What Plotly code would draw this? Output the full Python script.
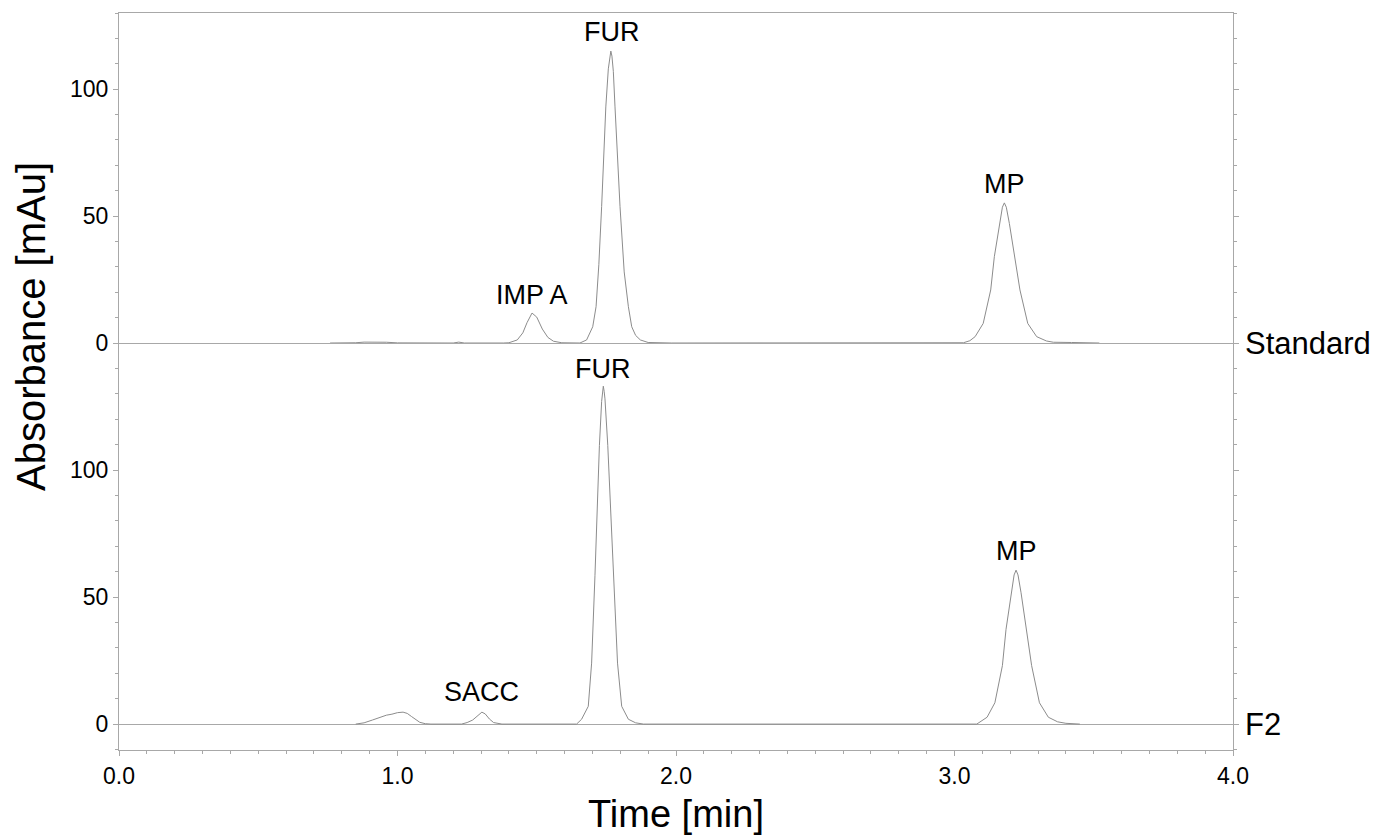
import plotly.graph_objects as go

# ---- Data ----
std_time = [0.758, 0.80, 0.85, 0.88, 0.92, 0.96, 1.00, 1.06, 1.20, 1.22, 1.24, 1.38,
            1.40, 1.43, 1.45, 1.465, 1.483, 1.50, 1.52, 1.54, 1.56, 1.59, 1.62,
            1.655, 1.679, 1.701, 1.713, 1.723, 1.733, 1.741, 1.748, 1.757, 1.762, 1.766, 1.770,
            1.775, 1.781, 1.790, 1.799,
            1.814, 1.829, 1.841, 1.855, 1.872, 1.90, 1.985, 3.00,
            3.032, 3.055, 3.074, 3.103, 3.130, 3.143, 3.161, 3.172, 3.179, 3.186, 3.197, 3.217,
            3.235, 3.263, 3.295, 3.33, 3.355, 3.42, 3.52]
std_abs = [0, 0, 0.1, 0.35, 0.45, 0.3, 0.05, 0, 0, 0.35, 0, 0,
           0.1, 1.2, 4.0, 8.0, 11.8, 10.2, 5.5, 2.2, 0.7, 0.1, 0,
           0, 1.2, 6.4, 14.3, 31, 53.7, 76, 93, 108, 113, 115, 113,
           107, 93, 73, 53.7,
           28, 14.3, 6.4, 3.0, 1.2, 0.2, 0, 0,
           0.1, 0.9, 2.5, 7.7, 20.9, 34, 47.1, 53.5, 55.2, 53.5, 47.1, 34,
           20.9, 7.7, 2.5, 0.8, 0.3, 0.2, 0]

f2_time = [0.85, 0.88, 0.91, 0.94, 0.96, 0.98, 1.00, 1.02, 1.035, 1.05, 1.065, 1.08, 1.10, 1.12,
           1.23, 1.25, 1.27, 1.29, 1.303, 1.315, 1.33, 1.345, 1.36, 1.375,
           1.643, 1.661, 1.685, 1.697, 1.709, 1.717, 1.725, 1.733, 1.736, 1.739, 1.742, 1.745,
           1.755, 1.765, 1.775, 1.790, 1.805,
           1.829, 1.855, 1.883, 3.08,
           3.117, 3.145, 3.172, 3.185, 3.203, 3.214, 3.221, 3.228, 3.239, 3.259, 3.277,
           3.305, 3.337, 3.37, 3.40, 3.45]
f2_abs = [0, 0.5, 1.6, 2.9, 3.5, 3.9, 4.5, 4.7, 4.2, 3.0, 1.7, 0.7, 0.15, 0,
          0, 0.6, 1.6, 3.6, 4.7, 4.0, 2.0, 0.6, 0.15, 0,
          0, 1.9, 7.0, 24, 58.4, 86, 109.7, 127, 131, 133, 131, 128,
          109.7, 84, 58.4, 24, 7.0,
          1.9, 0.5, 0, 0,
          2.7, 8.4, 23, 37.3, 51.7, 58.7, 60.6, 58.7, 51.7, 37.3, 23,
          8.4, 2.7, 0.9, 0.3, 0]

std_labels = ["IMP A", "FUR", "MP"]
std_label_t = [1.483, 1.770, 3.178]
std_label_v = [18.9, 122.4, 62.6]

f2_labels = ["SACC", "FUR", "MP"]
f2_label_t = [1.303, 1.738, 3.221]
f2_label_v = [12.6, 139.8, 68.1]

trace_names = ["Standard", "F2"]
y_tickvals = [0, 50, 100]
x_tickvals = [0, 1, 2, 3, 4]

# ---- Figure ----
FONT = "Liberation Sans, Arial, sans-serif"
FRAME = "#a8a8a8"
TRACE = "#8c8c8c"
W, H = 1378, 837
L, R, T, B = 119, 1233, 13, 750          # plot area in page pixels
split = (B - 343) / float(B - T)

fig = go.Figure()
fig.add_trace(go.Scatter(x=std_time, y=std_abs, mode="lines", xaxis="x2", yaxis="y2",
                         line=dict(color=TRACE, width=1),
                         name=trace_names[0], showlegend=False))
fig.add_trace(go.Scatter(x=f2_time, y=f2_abs, mode="lines", xaxis="x", yaxis="y",
                         line=dict(color=TRACE, width=1),
                         name=trace_names[1], showlegend=False))

ann = []
for lab, t, v in zip(std_labels, std_label_t, std_label_v):
    ann.append(dict(x=t, y=v, xref="x2", yref="y2", text=lab, showarrow=False,
                    font=dict(family=FONT, size=27, color="black"), yanchor="middle"))
for lab, t, v in zip(f2_labels, f2_label_t, f2_label_v):
    ann.append(dict(x=t, y=v, xref="x", yref="y", text=lab, showarrow=False,
                    font=dict(family=FONT, size=27, color="black"), yanchor="middle"))
ann.append(dict(x=1.0, xref="paper", xshift=10, y=0, yref="y2", text=trace_names[0],
                showarrow=False, xanchor="left", yanchor="middle",
                font=dict(family=FONT, size=31, color="black")))
ann.append(dict(x=1.0, xref="paper", xshift=10, y=0, yref="y", text=trace_names[1],
                showarrow=False, xanchor="left", yanchor="middle",
                font=dict(family=FONT, size=31, color="black")))
ann.append(dict(x=(31 - L) / float(R - L), y=(B - 327) / float(B - T), xref="paper", yref="paper",
                text="Absorbance [mAu]", textangle=-90, showarrow=False,
                xanchor="center", yanchor="middle",
                font=dict(family=FONT, size=40, color="black")))
ann.append(dict(x=0.5, y=(B - 814) / float(B - T), xref="paper", yref="paper",
                text="Time [min]", showarrow=False, xanchor="center", yanchor="middle",
                font=dict(family=FONT, size=38, color="black")))

tickfont = dict(family=FONT, size=23, color="black")

fig.update_layout(
    width=W, height=H,
    margin=dict(l=L, r=W - R, t=T, b=H - B),
    paper_bgcolor="white", plot_bgcolor="white",
    showlegend=False,
    annotations=ann,
    xaxis=dict(domain=[0, 1], anchor="y", range=[0, 4], tickvals=x_tickvals,
               tickformat=".1f", showgrid=False, zeroline=False,
               showline=True, linecolor=FRAME, linewidth=1,
               ticks="outside", ticklen=5, tickcolor=FRAME, tickfont=tickfont,
               minor=dict(dtick=0.1, ticks="outside", ticklen=3, tickcolor=FRAME),
               mirror=False),
    yaxis=dict(domain=[0, split], anchor="x", range=[-10.2, 150], tickvals=y_tickvals,
               showgrid=False, zeroline=True, zerolinecolor=FRAME, zerolinewidth=1,
               showline=True, linecolor=FRAME, linewidth=1, mirror="ticks",
               ticks="outside", ticklen=5, tickcolor=FRAME, tickfont=tickfont,
               minor=dict(dtick=10, ticks="outside", ticklen=3, tickcolor=FRAME)),
    xaxis2=dict(domain=[0, 1], anchor="y2", range=[0, 4], matches="x",
                showticklabels=False, ticks="", showgrid=False, zeroline=False,
                showline=True, linecolor=FRAME, linewidth=1, mirror=True),
    yaxis2=dict(domain=[split, 1], anchor="x2", range=[0, 130], tickvals=y_tickvals,
                showgrid=False, zeroline=False,
                showline=True, linecolor=FRAME, linewidth=1, mirror="ticks",
                ticks="outside", ticklen=5, tickcolor=FRAME, tickfont=tickfont,
                minor=dict(dtick=10, ticks="outside", ticklen=3, tickcolor=FRAME)),
)

fig.write_html("out.html", config={"displayModeBar": False},
               post_script="document.body.style.margin='0';document.body.style.overflow='hidden';")
